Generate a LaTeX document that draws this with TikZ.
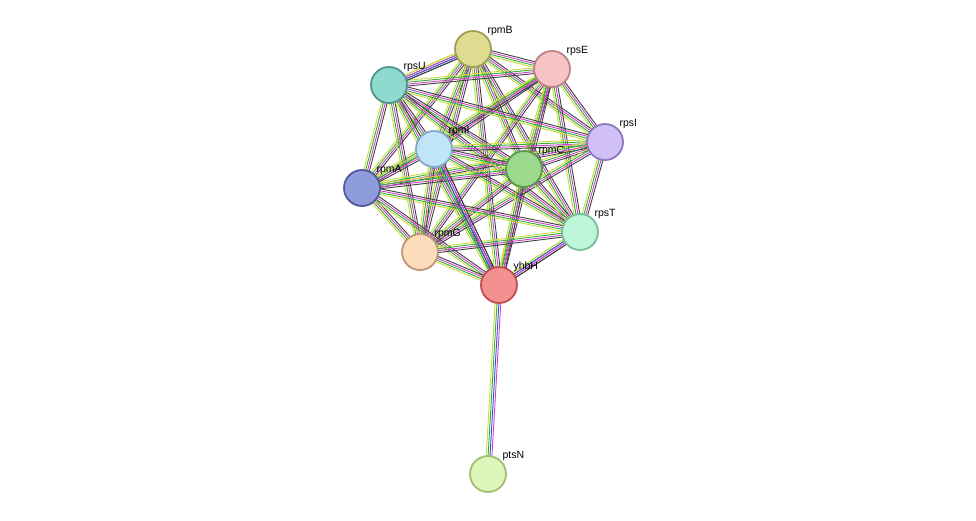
\documentclass[tikz,border=0pt]{standalone}
\usepackage{fontspec}
\setmainfont{Liberation Sans}
\usetikzlibrary{calc}
\pgfdeclarelayer{bg}
\pgfsetlayers{bg,main}
\definecolor{eY}{HTML}{C8DC3C}
\definecolor{eG}{HTML}{30B030}
\definecolor{eM}{HTML}{D040D0}
\definecolor{eK}{HTML}{404040}
\definecolor{eB}{HTML}{3050E0}
\tikzset{
 prot/.style={circle,minimum size=36pt,inner sep=0,line width=1.8pt,
   label={[font=\fontsize{10.5}{12}\selectfont,inner sep=0,anchor=south west,xshift=1pt,yshift=0pt]north east:#1}},
 eline/.style={line width=0.9pt}
}
\newcommand{\bundle}[3]{%
 \foreach \c [count=\i] in {#3}{
  \pgfmathsetmacro{\o}{(\i-2.5)*1.9}
  \draw[eline,\c] ($(#1.center)!\o pt!90:(#2.center)$) -- ($(#2.center)!\o pt!-90:(#1.center)$);
 }}
\begin{document}
\begin{tikzpicture}[x=1pt,y=-1pt]
\useasboundingbox (0,0) rectangle (976,520);
\node[prot=rpmB,fill={rgb,255:red,222;green,220;blue,145},draw={rgb,255:red,160;green,158;blue,80}] (rpmB) at (473,49) {};
\node[prot=rpsE,fill={rgb,255:red,246;green,196;blue,196},draw={rgb,255:red,190;green,130;blue,130}] (rpsE) at (552,69) {};
\node[prot=rpsU,fill={rgb,255:red,143;green,217;blue,207},draw={rgb,255:red,80;green,150;blue,140}] (rpsU) at (389,85) {};
\node[prot=rpsI,fill={rgb,255:red,208;green,192;blue,246},draw={rgb,255:red,140;green,120;blue,190}] (rpsI) at (605,142) {};
\node[prot=rpmI,fill={rgb,255:red,192;green,228;blue,248},draw={rgb,255:red,130;green,170;blue,200}] (rpmI) at (434,149) {};
\node[prot=rpmC,fill={rgb,255:red,156;green,217;blue,140},draw={rgb,255:red,90;green,150;blue,80}] (rpmC) at (524,169) {};
\node[prot=rpmA,fill={rgb,255:red,143;green,156;blue,220},draw={rgb,255:red,80;green,90;blue,150}] (rpmA) at (362,188) {};
\node[prot=rpsT,fill={rgb,255:red,189;green,245;blue,216},draw={rgb,255:red,120;green,190;blue,150}] (rpsT) at (580,232) {};
\node[prot=rpmG,fill={rgb,255:red,253;green,220;blue,188},draw={rgb,255:red,190;green,150;blue,120}] (rpmG) at (420,252) {};
\node[prot=yhbH,fill={rgb,255:red,245;green,144;blue,144},draw={rgb,255:red,190;green,80;blue,80}] (yhbH) at (499,285) {};
\node[prot=ptsN,fill={rgb,255:red,221;green,245;blue,184},draw={rgb,255:red,160;green,190;blue,110}] (ptsN) at (488,474) {};
\begin{pgfonlayer}{bg}
\foreach \a/\b in {rpmB/rpsE,rpmB/rpsU,rpmB/rpsI,rpmB/rpmI,rpmB/rpmC,rpmB/rpmA,rpmB/rpsT,rpmB/rpmG,rpmB/yhbH,
 rpsE/rpsU,rpsE/rpsI,rpsE/rpmI,rpsE/rpmC,rpsE/rpmA,rpsE/rpsT,rpsE/rpmG,rpsE/yhbH,
 rpsU/rpsI,rpsU/rpmI,rpsU/rpmC,rpsU/rpmA,rpsU/rpsT,rpsU/rpmG,rpsU/yhbH,
 rpsI/rpmI,rpsI/rpmC,rpsI/rpmA,rpsI/rpsT,rpsI/rpmG,
 rpmI/rpmC,rpmI/rpmA,rpmI/rpsT,rpmI/rpmG,rpmI/yhbH,
 rpmC/rpmA,rpmC/rpsT,rpmC/rpmG,rpmC/yhbH,
 rpmA/rpsT,rpmA/rpmG,rpmA/yhbH,
 rpsT/rpmG,rpsT/yhbH,rpmG/yhbH}
 {\bundle{\a}{\b}{eY,eG,eM,eK}}
\bundle{rpmB}{rpsU}{eY,eM,eB,eK}
\bundle{rpmI}{yhbH}{eG,eB,eM,eK}
\bundle{rpsT}{yhbH}{eY,eB,eM,eK}
\bundle{yhbH}{ptsN}{eY,eG,eB,eM}
\end{pgfonlayer}
\end{tikzpicture}
\end{document}
